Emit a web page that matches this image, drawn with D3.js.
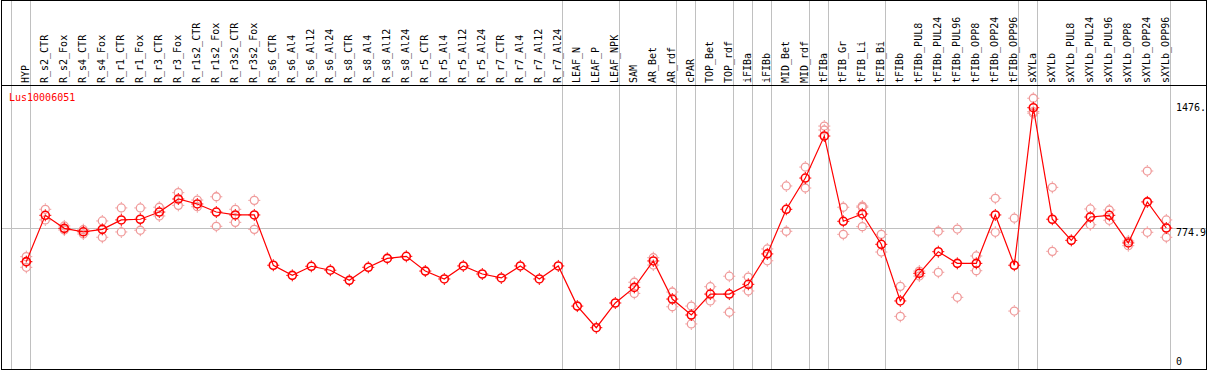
<!DOCTYPE html>
<html>
<head>
<meta charset="utf-8">
<script src="https://cdn.jsdelivr.net/npm/d3@7"></script>
<style>
  html, body { margin: 0; padding: 0; background: #fff; }
  svg text { font-family: "DejaVu Sans Mono", monospace; font-size: 10px; }
</style>
</head>
<body>
<div id="chart"></div>
<script>
// sample names, in column order
var categories = ['HYP', 'R_s2_CTR', 'R_s2_Fox', 'R_s4_CTR', 'R_s4_Fox', 'R_r1_CTR', 'R_r1_Fox',
  'R_r3_CTR', 'R_r3_Fox', 'R_r1s2_CTR', 'R_r1s2_Fox', 'R_r3s2_CTR', 'R_r3s2_Fox',
  'R_s6_CTR', 'R_s6_Al4', 'R_s6_Al12', 'R_s6_Al24', 'R_s8_CTR', 'R_s8_Al4', 'R_s8_Al12', 'R_s8_Al24',
  'R_r5_CTR', 'R_r5_Al4', 'R_r5_Al12', 'R_r5_Al24', 'R_r7_CTR', 'R_r7_Al4', 'R_r7_Al12', 'R_r7_Al24',
  'LEAF_N', 'LEAF_P', 'LEAF_NPK', 'SAM', 'AR_Bet', 'AR_rdf', 'cPAR', 'TOP_Bet', 'TOP_rdf',
  'iFIBa', 'iFIBb', 'MID_Bet', 'MID_rdf', 'tFIBa', 'tFIB_Gr', 'tFIB_Li', 'tFIB_Bi',
  'tFIBb', 'tFIBb_PUL8', 'tFIBb_PUL24', 'tFIBb_PUL96', 'tFIBb_OPP8', 'tFIBb_OPP24', 'tFIBb_OPP96',
  'sXYLa', 'sXYLb', 'sXYLb_PUL8', 'sXYLb_PUL24', 'sXYLb_PUL96', 'sXYLb_OPP8', 'sXYLb_OPP24', 'sXYLb_OPP96'];

// mean expression per sample
var means = [579, 849, 773, 753, 767, 822, 826, 868, 944, 915, 868, 851, 851,
  558, 499, 552, 529, 470, 546, 598, 610,
  524, 478, 554, 507, 484, 554, 478, 554,
  320, 194, 338, 429, 583, 361, 268, 390, 390,
  447, 624, 884, 1066, 1311, 814, 857, 680,
  350, 511, 637, 569, 569, 851, 558,
  1476, 826, 703, 839, 849, 688, 927, 775];

// replicate values (empty where none are drawn)
var replicates = [[608, 577, 546], [884, 822], [787, 763], [765, 740], [816, 721], [892, 752], [892, 762],
  [896, 845], [981, 907], [938, 899], [957, 785], [884, 808], [936, 767],
  [], [], [], [], [], [], [], [],
  [], [], [], [], [], [], [], [],
  [], [], [], [459, 394], [602, 559], [402, 316], [320, 216], [433, 350], [494, 284],
  [489, 408], [653, 584], [1020, 756], [1130, 1008], [1369, 1346], [896, 738], [903, 896, 783], [738, 635],
  [435, 260], [524, 495], [756, 517], [769, 371], [612, 526], [948, 750], [832, 291],
  [1531, 1453, 1444], [1012, 639], [], [886, 794], [880, 820], [699, 672], [1107, 750], [822, 721]];

// first sample of each block that gets a divider line
var groupStarts = ['HYP', 'R_s2_CTR', 'LEAF_N', 'SAM', 'cPAR', 'TOP_Bet', 'iFIBa', 'iFIBb',
  'MID_Bet', 'tFIBa', 'tFIB_Gr', 'tFIBb', 'sXYLa', 'sXYLb'];

var yTicks = [0, 774.9, 1476];
var yTickLabels = ['0', '774.9', '1476.'];
var geneName = 'Lus10006051';

var width = 1209, height = 370;
var headerY = 85, plotBottom = 369;
var bandStart = 11, bandStep = 19;

var svg = d3.select('#chart').append('svg')
  .attr('width', width)
  .attr('height', height);

var x = d3.scaleBand()
  .domain(categories)
  .range([bandStart, bandStart + bandStep * categories.length])
  .paddingInner(0).paddingOuter(0);

var y = d3.scaleLinear()
  .domain([0, 1476])
  .range([361, 107.7]);

// point sits near the right side of its column
function px(name) { return x(name) + 15.3; }

svg.append('clipPath').attr('id', 'frame')
  .append('rect').attr('x', 1).attr('y', 0).attr('width', 1206).attr('height', 370);

var g = svg.append('g').attr('clip-path', 'url(#frame)');

// vertical dividers
var lineXs = groupStarts.map(function(c) { return Math.round(x(c)) + 0.5; });
lineXs.push(Math.round(x.range()[1]) + 0.5);
g.selectAll('line.vdiv')
  .data(lineXs)
  .enter().append('line')
  .attr('class', 'vdiv')
  .attr('x1', function(d) { return d; })
  .attr('x2', function(d) { return d; })
  .attr('y1', 0).attr('y2', plotBottom)
  .attr('stroke', '#c0c0c0').attr('stroke-width', 1);

// horizontal reference line at the middle tick
g.append('line')
  .attr('x1', 1).attr('x2', 1207)
  .attr('y1', Math.round(y(yTicks[1])) + 0.5)
  .attr('y2', Math.round(y(yTicks[1])) + 0.5)
  .attr('stroke', '#c0c0c0').attr('stroke-width', 1);

// column labels
g.selectAll('text.col')
  .data(categories)
  .enter().append('text')
  .attr('class', 'col')
  .attr('transform', function(d) {
    return 'translate(' + (px(d) + 3) + ',' + 83 + ') rotate(-90)';
  })
  .attr('fill', '#000')
  .text(function(d) { return d; });

// gene name
g.append('text')
  .attr('x', 9).attr('y', 100.5)
  .attr('fill', '#ff0000')
  .text(geneName);

// y tick labels on the right
g.selectAll('text.ytick')
  .data(yTicks)
  .enter().append('text')
  .attr('class', 'ytick')
  .attr('x', 1176)
  .attr('y', function(d, i) { return y(d) + (i === 1 ? 8 : 3.5); })
  .attr('fill', '#000')
  .text(function(d, i) { return yTickLabels[i]; });

function marker(sel, color, sw) {
  sel.append('circle')
    .attr('r', 4)
    .attr('fill', 'none')
    .attr('stroke', color)
    .attr('stroke-width', sw);
  [[0, -1], [0, 1], [-1, 0], [1, 0]].forEach(function(v) {
    sel.append('line')
      .attr('x1', v[0] * 4.5).attr('y1', v[1] * 4.5)
      .attr('x2', v[0] * 6).attr('y2', v[1] * 6)
      .attr('stroke', color).attr('stroke-width', 1);
  });
}

// replicates
var repData = [];
categories.forEach(function(c, i) {
  replicates[i].forEach(function(v) { repData.push({ c: c, v: v }); });
});
g.selectAll('g.rep')
  .data(repData)
  .enter().append('g')
  .attr('class', 'rep')
  .attr('transform', function(d) { return 'translate(' + px(d.c) + ',' + y(d.v) + ')'; })
  .each(function() { marker(d3.select(this), '#f09a9a', 1.3); });

// mean line
var meanData = categories.map(function(c, i) { return { c: c, v: means[i] }; });
g.append('path')
  .datum(meanData)
  .attr('fill', 'none')
  .attr('stroke', '#ff0000')
  .attr('stroke-width', 1.2)
  .attr('d', d3.line()
    .x(function(d) { return px(d.c); })
    .y(function(d) { return y(d.v); }));

g.selectAll('g.mean')
  .data(meanData)
  .enter().append('g')
  .attr('class', 'mean')
  .attr('transform', function(d) { return 'translate(' + px(d.c) + ',' + y(d.v) + ')'; })
  .each(function() { marker(d3.select(this), '#ff0000', 1.6); });

// frame and header separator
svg.append('rect')
  .attr('x', 1.5).attr('y', 0.5)
  .attr('width', 1205).attr('height', 369)
  .attr('fill', 'none').attr('stroke', '#000').attr('stroke-width', 1);
svg.append('line')
  .attr('x1', 1).attr('x2', 1207)
  .attr('y1', headerY + 0.5).attr('y2', headerY + 0.5)
  .attr('stroke', '#000').attr('stroke-width', 1.2);
</script>
</body>
</html>
